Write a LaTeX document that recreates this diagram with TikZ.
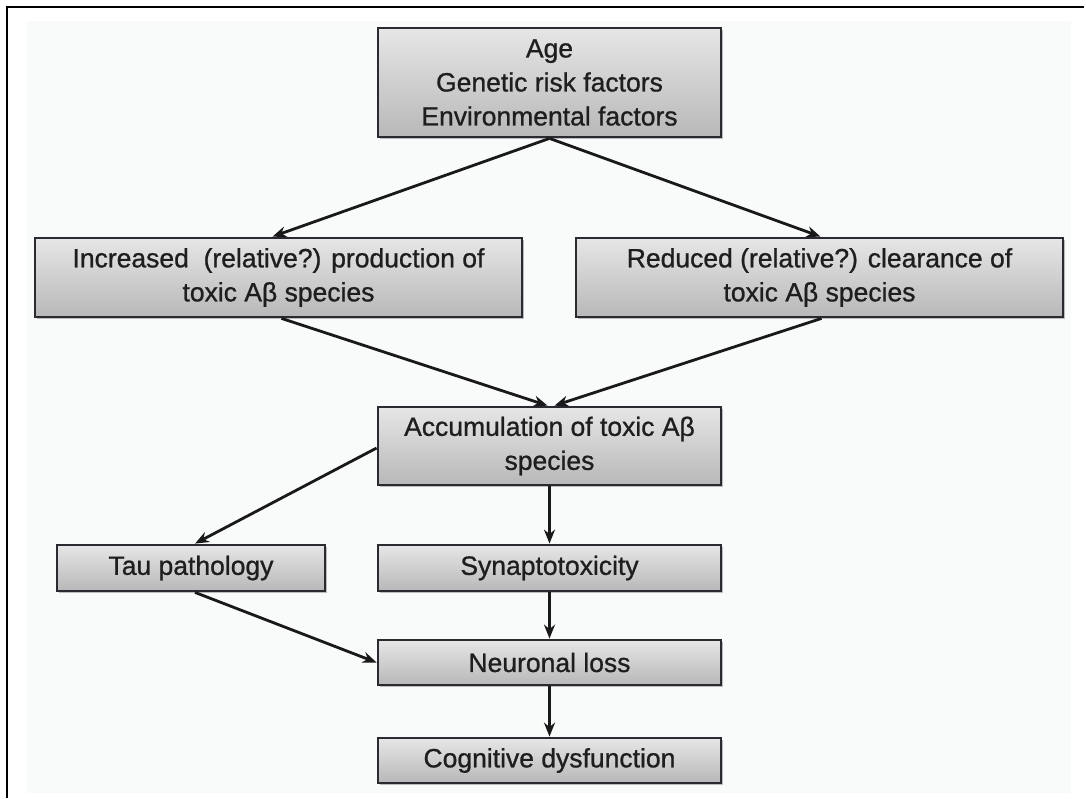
\documentclass[tikz,border=0pt]{standalone}
\usepackage{fontspec}
\setmainfont{Liberation Sans}
\newfontfamily\boxfont[FakeBold=0.9]{Liberation Sans}
\usetikzlibrary{arrows.meta,shadows,shadings}
\definecolor{boxtop}{HTML}{E6E6E6}
\definecolor{boxbot}{HTML}{B8B8B8}
\definecolor{boxline}{HTML}{2B2A30}
\definecolor{txt}{HTML}{1E1E1E}
\definecolor{bgpanel}{HTML}{F9FAFA}
\tikzset{
  box/.style={draw=boxline, line width=2.8pt, top color=boxtop, bottom color=boxbot,
    inner sep=0pt, align=center, text=txt,
    font=\boxfont\fontsize{26.5}{34}\selectfont,
    drop shadow={shadow xshift=2pt, shadow yshift=-2pt, opacity=0.25, fill=black}},
  conn/.style={draw=black!90, line width=2.8pt, -{Stealth[length=14pt,width=11pt]}}
}
\begin{document}
\begin{tikzpicture}[x=1pt,y=-1pt]
\useasboundingbox (0,0) rectangle (1086,798);
\fill[white] (0,0) rectangle (1086,798);
\fill[bgpanel] (27,21) rectangle (1071,793);
\draw[line width=1.8pt] (7,798) -- (7,7) -- (1084,7);

\node[box, minimum width=343pt, minimum height=109pt] (top) at (549.5,82.5)
  {Age\\Genetic risk factors\\Environmental factors};
\node[box, minimum width=487pt, minimum height=79pt] (inc) at (278.5,277.5)
  {Increased\ \ (relative?) production of\\toxic Aβ species};
\node[box, minimum width=487pt, minimum height=79pt] (red) at (819.5,277.5)
  {Reduced (relative?) clearance of\\toxic Aβ species};
\node[box, minimum width=343pt, minimum height=78pt] (acc) at (549.5,446)
  {Accumulation of toxic Aβ\\species};
\node[box, minimum width=268pt, minimum height=46pt] (tau) at (191,568)
  {Tau pathology};
\node[box, minimum width=343pt, minimum height=46pt] (syn) at (549.5,568)
  {Synaptotoxicity};
\node[box, minimum width=343pt, minimum height=45pt] (neu) at (549.5,662.5)
  {Neuronal loss};
\node[box, minimum width=343pt, minimum height=45pt] (cog) at (549.5,760.5)
  {Cognitive dysfunction};

\draw[conn] (top.south) -- ([xshift=-6pt]inc.north);
\draw[conn] (top.south) -- ([xshift=1pt]red.north);
\draw[conn] ([xshift=3pt]inc.south) -- ([xshift=-2pt]acc.north);
\draw[conn] ([xshift=2pt]red.south) -- ([xshift=5pt]acc.north);
\draw[conn] ([yshift=-2pt]acc.west) -- ([xshift=4pt]tau.north);
\draw[conn] ([xshift=4pt]tau.south) -- (neu.west);
\draw[conn] (acc.south) -- (syn.north);
\draw[conn] (syn.south) -- (neu.north);
\draw[conn] (neu.south) -- (cog.north);
\end{tikzpicture}
\end{document}
